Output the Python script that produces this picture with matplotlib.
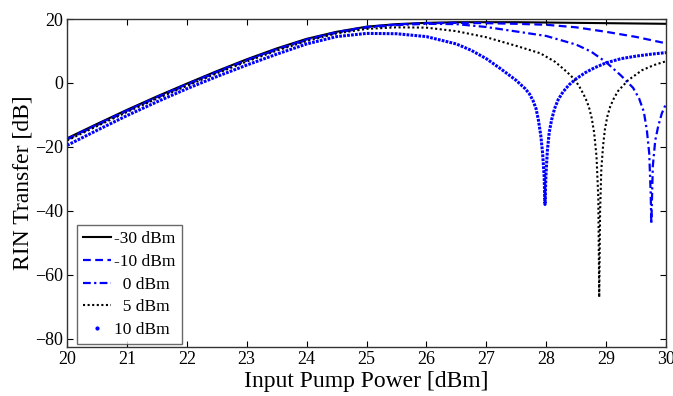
import matplotlib
matplotlib.use("Agg")
import matplotlib.pyplot as plt
from matplotlib.lines import Line2D

plt.rcParams['font.family'] = ['Liberation Serif', 'DejaVu Serif']

# ---- data ----
labels = ["-30 dBm", "-10 dBm", "  0 dBm", "  5 dBm", "10 dBm"]

x_m30 = [20, 20.5, 21, 21.5, 22, 22.5, 23, 23.5, 24, 24.5, 25, 25.5, 26, 26.5, 27, 27.5, 28, 28.5, 29, 29.5, 30]
y_m30 = [-17.3, -12.8, -8.4, -4.2, -0.2, 3.7, 7.4, 10.8, 13.8, 16.0, 17.6, 18.4, 18.8, 19.0, 19.0, 19.0, 18.9, 18.8, 18.7, 18.6, 18.5]

x_m10 = [20, 20.5, 21, 21.5, 22, 22.5, 23, 23.5, 24, 24.5, 25, 25.5, 26, 26.5, 27, 27.5, 28, 28.5, 29, 29.5, 30]
y_m10 = [-17.5, -13.0, -8.6, -4.4, -0.4, 3.5, 7.2, 10.6, 13.6, 15.9, 17.5, 18.3, 18.7, 18.8, 18.7, 18.5, 18.2, 17.4, 16.0, 14.4, 12.4]

x_0 = [20, 20.5, 21, 21.5, 22, 22.5, 23, 23.5, 24, 24.5, 25, 25.5, 26, 26.5, 27, 27.5, 28, 28.5, 28.75, 29,
       29.25, 29.45, 29.55, 29.63, 29.68, 29.72, 29.745, 29.755, 29.78, 29.82, 29.87, 29.93, 30]
y_0 = [-17.7, -13.2, -8.8, -4.6, -0.6, 3.3, 7.0, 10.4, 13.4, 15.7, 17.3, 18.1, 18.5, 18.4, 17.5, 16.1, 14.7, 12.0, 9.8, 6.5,
       2.3, -1.5, -4.8, -9.0, -14.7, -22.0, -35.0, -44.0, -26.0, -18.0, -13.5, -9.5, -6.5]

x_5 = [20, 20.5, 21, 21.5, 22, 22.5, 23, 23.5, 24, 24.5, 25, 25.5, 26, 26.5, 27, 27.5, 27.9, 28.15, 28.3, 28.4,
       28.48, 28.55, 28.62, 28.68, 28.72, 28.76, 28.8, 28.84, 28.87, 28.885, 28.9, 28.92, 28.95, 28.98, 29.02, 29.07,
       29.13, 29.2, 29.37, 29.6, 29.8, 30]
y_5 = [-18.0, -13.5, -9.1, -4.9, -0.9, 3.0, 6.7, 10.1, 13.1, 15.5, 16.9, 17.4, 17.3, 16.2, 14.3, 11.6, 9.3, 6.6, 4.2, 2.5,
       0.9, -1.0, -3.4, -5.8, -8.0, -11.0, -15.5, -23.0, -36.0, -67.0, -40.0, -27.0, -19.5, -14.5, -10.5, -7.3,
       -4.8, -2.5, 0.9, 4.0, 5.6, 6.8]

x_10 = [20, 20.5, 21, 21.5, 22, 22.5, 23, 23.5, 24, 24.5, 25, 25.5, 26, 26.5, 26.75, 27, 27.25, 27.5, 27.65, 27.72,
        27.78, 27.83, 27.87, 27.91, 27.94, 27.965, 27.98, 27.995, 28.02, 28.05, 28.09, 28.14, 28.2, 28.28, 28.38,
        28.5, 28.65, 28.8, 29, 29.25, 29.5, 29.75, 30]
y_10 = [-19.5, -14.8, -10.2, -5.9, -1.8, 2.0, 5.6, 9.0, 12.2, 14.5, 15.5, 15.4, 14.5, 12.2, 10.2, 7.6, 4.3, 0.8, -1.8, -3.4,
        -5.5, -8.0, -11.6, -16.5, -22.0, -29.0, -38.0, -29.0, -21.0, -15.5, -11.5, -8.0, -5.2, -2.8, -0.6,
        1.3, 3.2, 4.7, 6.3, 7.6, 8.4, 9.0, 9.5]

x_ticks = [20, 21, 22, 23, 24, 25, 26, 27, 28, 29, 30]
y_ticks = [-80, -60, -40, -20, 0, 20]

# ---- figure ----
fig = plt.figure(figsize=(6.73, 3.96), dpi=100)
ax = fig.add_axes([0.0996, 0.124, 0.890, 0.828])

blue = '#0000ff'
ax.plot(x_m30, y_m30, color='black', lw=1.5, ls='-')
ax.plot(x_m10, y_m10, color=blue, lw=1.6, ls=(0, (3.5, 2.0)))
ax.plot(x_0, y_0, color=blue, lw=1.6, ls=(0, (3.5, 1.5, 1.0, 1.5)))
ax.plot(x_5, y_5, color='black', lw=1.5, ls=(0, (1.0, 1.2)))
ax.plot(x_10, y_10, color=blue, lw=2.2, ls=(0, (0.9, 0.4)))

handles = [
    Line2D([], [], color='black', lw=1.5, ls='-'),
    Line2D([], [], color=blue, lw=1.6, ls=(0, (3.5, 2.0))),
    Line2D([], [], color=blue, lw=1.6, ls=(0, (3.5, 1.5, 1.0, 1.5))),
    Line2D([], [], color='black', lw=1.5, ls=(0, (1.0, 1.2))),
    Line2D([], [], color=blue, marker='.', ls='none', markersize=4),
]
leg = ax.legend(handles, labels, loc='lower left', bbox_to_anchor=(0.012, 0.0),
                fontsize=12.5, frameon=True, fancybox=False, edgecolor='#444444',
                handlelength=1.6, handletextpad=0.2, labelspacing=0.38, borderpad=0.35,
                borderaxespad=0.15)
leg.get_frame().set_linewidth(1.0)

ax.set_xlim(20, 30)
ax.set_ylim(-82.5, 20)
ax.set_xticks(x_ticks)
ax.set_yticks(y_ticks)
ax.tick_params(direction='in', top=True, right=True, length=4, width=0.8, labelsize=13, pad=3)
for s in ax.spines.values():
    s.set_linewidth(1.0)
    s.set_color('#333333')

ax.set_xlabel('Input Pump Power [dBm]', fontsize=17, labelpad=2)
ax.set_ylabel('RIN Transfer [dB]', fontsize=17, labelpad=1)

fig.savefig('out.png', dpi=100)
